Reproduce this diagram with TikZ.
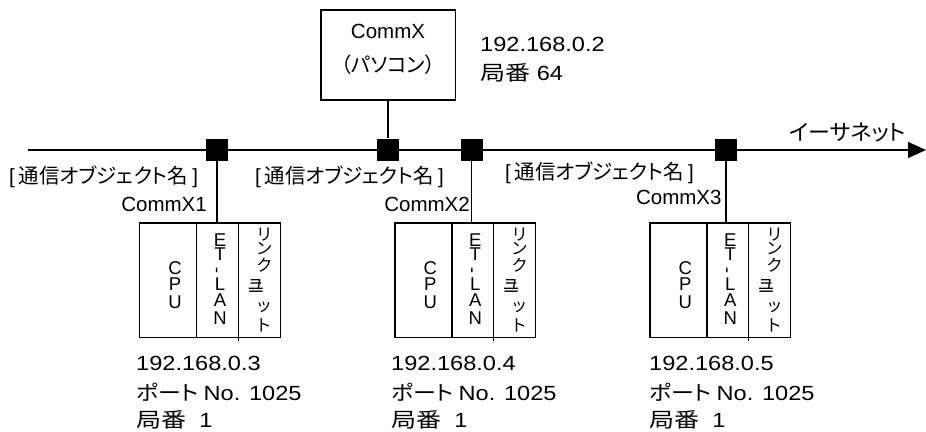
\documentclass[tikz,border=0pt]{standalone}
\usepackage{fontspec}
\setmainfont{Liberation Sans}
\newfontfamily\jp[RawFeature=+palt]{Noto Sans CJK JP}
\newfontfamily\wide[FakeStretch=1.15]{Liberation Sans}
\newfontfamily\jpw[FakeStretch=1.22,RawFeature=+palt]{Noto Sans CJK JP}
\newfontfamily\jpm[FakeStretch=1.12,RawFeature=+palt]{Noto Sans CJK JP}
\newcommand\objname{[\hspace{4pt}{\jp 通信オブジェクト名}\hspace{4pt}]}
\usetikzlibrary{arrows.meta}
\begin{document}
\begin{tikzpicture}[x=1pt,y=-1pt,
  txt/.style={font=\fontsize{20.5}{24}\selectfont, inner sep=0pt},
  wtxt/.style={font=\wide\fontsize{20.5}{24}\selectfont, inner sep=0pt},
  vch/.style={font=\fontsize{18.5}{20}\selectfont, inner sep=0pt, text height=0.68em, text depth=0pt},
  vjp/.style={font=\jp\fontsize{16.5}{18}\selectfont, inner sep=0pt, text height=0.7em, text depth=0pt},
  ln/.style={line width=1.3pt},
  hub/.style={fill=black, minimum size=22pt, inner sep=0pt},
  unitbox/.style={draw, ln, minimum width=140.5pt, minimum height=114.5pt, inner sep=0pt, anchor=north west}]
\useasboundingbox (0,0) rectangle (926,431);
% bus
\coordinate (b0) at (28,150);
\coordinate (b1) at (926,150);
\draw[ln,-{Triangle[length=18pt,width=16pt]}] (b0) -- (b1);
\node[hub] (h1) at (217,149.5) {};
\node[hub] (h2) at (388,149.5) {};
\node[hub] (h3) at (471.5,149.5) {};
\node[hub] (h4) at (726,149.5) {};
% PC
\node[draw, ln, minimum width=134.3pt, minimum height=90pt, inner sep=0pt] (pc) at (388,55) {};
\draw[ln] (pc.south) -- (h2.north);
\node[txt] (pcname) at (388,31) {CommX};
\node[txt] (pctype) at (388,65) {\jp （パソコン）};
\node[wtxt, anchor=west] (pcip) at (480,44) {192.168.0.2};
\node[wtxt, anchor=west] (pcst) at (480,73) {{\jpw 局番} 64};
\node[txt, anchor=base east, font=\jp\fontsize{22}{24}\selectfont] (eth) at (906,140) {イーサネット};
% object name labels
\node[txt, anchor=west] (on1) at (9,177) {\objname};
\node[txt, anchor=east] (cx1) at (207,204) {CommX1};
\node[txt, anchor=east] (on2) at (444,177) {\objname};
\node[txt, anchor=east] (cx2) at (470,204) {CommX2};
\node[txt, anchor=east] (on3) at (694,173) {\objname};
\node[txt, anchor=east] (cx3) at (721.7,197.5) {CommX3};
% units
\foreach \i/\x/\hb/\tx/\ip in {1/139/h1/136/3, 2/394.3/h3/391/4, 3/649.3/h4/649/5}{
  \node[unitbox] (u\i) at (\x,222.3) {};
  \draw[ln] ([xshift=57.7pt]u\i.north west) -- ([xshift=57.7pt]u\i.south west);
  \draw[ln] ([xshift=99.3pt]u\i.north west) -- ([xshift=99.3pt,yshift=-2.5pt]u\i.south west);
  \draw[ln] (\hb.south) -- (\hb.south |- u\i.north);
  \foreach \c/\yy [count=\k] in {C/271.5, P/287.5, U/305}
    \node[vch] (cpu\i-\k) at (\x+36,\yy) {\c};
  \foreach \c/\yy [count=\k] in {E/243.3, T/257.5, L/287.5, A/303.3, N/320.8}
    \node[vch] (et\i-\k) at (\x+81,\yy) {\c};
  \node[vch, rotate=90, text height=0.3em] (etd\i) at (\x+81,270.8) {-};
  \foreach \c/\yy [count=\k] in {リ/236.7, ン/250.8, ク/267.5, ッ/308.3, ト/328.3}
    \node[vjp] (lk\i-\k) at (\x+125,\yy) {\c};
  \node[vjp] (lkm\i) at (\x+125,288.3) {\makebox[0pt]{\raisebox{1.5pt}{ユ}}\makebox[0pt]{\raisebox{-1.5pt}{ニ}}\phantom{ユ}};
  \node[wtxt, anchor=west] (ipa\i) at (\tx,363) {192.168.0.\ip};
  \node[wtxt, anchor=west] (port\i) at (\tx,392.5) {{\jpm ポート}\hspace{5pt}No. 1025};
  \node[wtxt, anchor=west] (st\i) at (\tx,420) {{\jpw 局番}\ \ 1};
}
\end{tikzpicture}
\end{document}
